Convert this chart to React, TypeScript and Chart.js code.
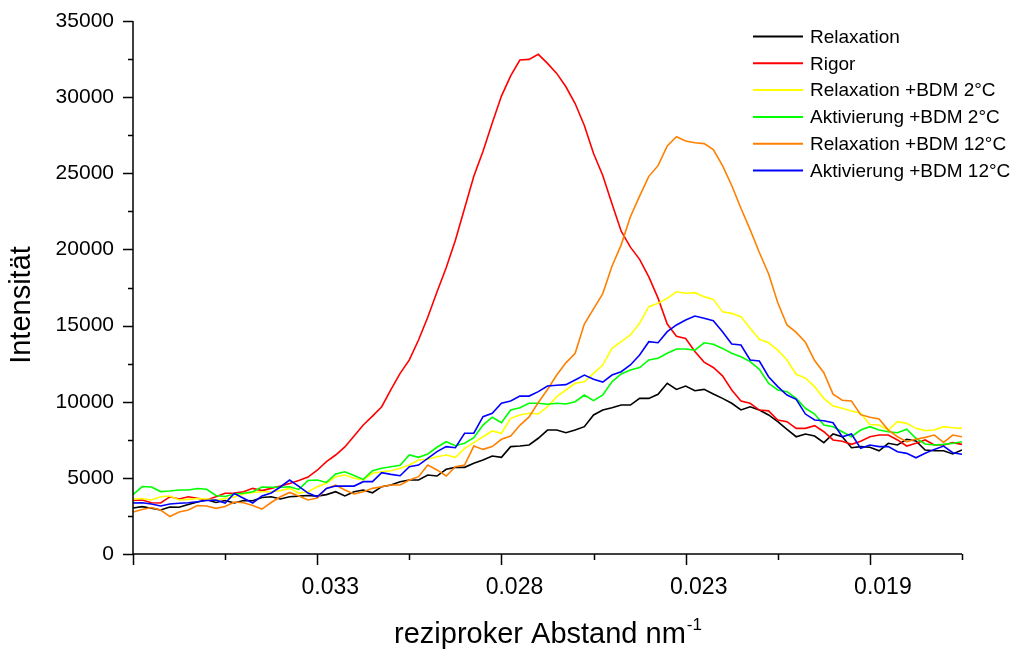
import React, { useEffect, useRef } from "react";
import { Chart, registerables } from "chart.js";

Chart.register(...registerables);

// ---- Data (sample index along the reciprocal-distance axis) ----
const seriesLabels = [
  "Relaxation",
  "Rigor",
  "Relaxation +BDM 2°C",
  "Aktivierung +BDM 2°C",
  "Relaxation +BDM 12°C",
  "Aktivierung +BDM 12°C",
];
const seriesColors = ["#000000", "#ff0000", "#ffff00", "#00ff00", "#ff8000", "#0000ff"];

const relaxation = [
  3020, 3110, 3000, 2890, 3090, 3070, 3250, 3410, 3560, 3380,
  3510, 3350, 3510, 3500, 3710, 3760, 3610, 3760, 3800, 3840,
  3800, 3900, 4090, 3810, 4090, 4200, 4020, 4420, 4530, 4750,
  4860, 4860, 5190, 5120, 5560, 5690, 5690, 5960, 6170, 6430,
  6350, 7050, 7090, 7160, 7600, 8140, 8140, 7960, 8140, 8360,
  9130, 9460, 9610, 9780, 9780, 10220, 10220, 10490, 11210, 10810,
  11030, 10720, 10810, 10510, 10220, 9900, 9460, 9670, 9460, 9130,
  8690, 8190, 7700, 7880, 7750, 7310, 7880, 7700, 6980, 7050,
  7010, 6780, 7270, 7160, 7530, 7420, 6830, 6780, 6780, 6570,
  6830,
];
const rigor = [
  3510, 3550, 3370, 3350, 3760, 3610, 3760, 3660, 3550, 3760,
  3990, 4000, 4090, 4310, 4160, 4310, 4460, 4630, 4830, 5050,
  5500, 6060, 6500, 7030, 7750, 8470, 9050, 9670, 10800, 11860,
  12750, 14050, 15550, 17200, 18800, 20600, 22700, 24800, 26450, 28300,
  30070, 31400, 32440, 32480, 32810, 32220, 31560, 30680, 29580, 28140,
  26300, 24860, 23000, 21200, 20150, 19350, 18200, 16800, 15100, 14300,
  14150, 13300, 12600, 12250, 11700, 10770, 10050, 9900, 9450, 9400,
  8800, 8690, 8250, 8250, 8430, 8030, 7490, 7400, 7200, 7400,
  7700, 7810, 7810, 7490, 7090, 7270, 7490, 7160, 7160, 7310,
  7200,
];
const relaxBdm2 = [
  3610, 3640, 3550, 3760, 3810, 3550, 3590, 3640, 3610, 3550,
  3640, 3740, 3940, 4040, 4090, 4090, 4160, 4310, 4000, 4090,
  4420, 4640, 5080, 5190, 4970, 4860, 5300, 5400, 5470, 5630,
  5840, 6170, 6220, 6390, 6500, 6350, 6940, 7310, 7700, 8080,
  7930, 8910, 9130, 9240, 9190, 9670, 10330, 10770, 11210, 11310,
  11860, 12410, 13510, 13940, 14380, 15150, 16240, 16460, 16790, 17220,
  17120, 17160, 16900, 16720, 15900, 15800, 15580, 14820, 14100, 13870,
  13390, 12740, 11800, 11540, 10990, 10220, 9720, 9570, 9390, 9240,
  8500, 8470, 8140, 8690, 8580, 8250, 8100, 8140, 8360, 8290,
  8250,
];
const aktivBdm2 = [
  3900, 4430, 4400, 4100, 4140, 4200, 4200, 4300, 4250, 3840,
  3780, 3940, 3990, 4090, 4400, 4380, 4380, 4420, 4240, 4830,
  4860, 4700, 5260, 5400, 5150, 4900, 5470, 5630, 5730, 5820,
  6500, 6350, 6570, 7010, 7370, 7110, 7270, 7640, 8470, 8980,
  8620, 9460, 9600, 9900, 9900, 9830, 9900, 9850, 10000, 10440,
  10070, 10440, 11310, 11820, 12080, 12240, 12740, 12850, 13180, 13460,
  13460, 13390, 13870, 13770, 13500, 13180, 12950, 12630, 12130, 11210,
  10770, 10660, 10220, 9570, 9190, 8470, 8360, 8030, 7700, 8140,
  8360, 8140, 8030, 7960, 8190, 7600, 7220, 7160, 7200, 7270,
  7370,
];
const relaxBdm12 = [
  2760, 2920, 3050, 2890, 2460, 2760, 2890, 3180, 3150, 3000,
  3120, 3410, 3370, 3180, 2950, 3380, 3760, 4040, 3810, 3550,
  3680, 4310, 4530, 4200, 3940, 4090, 4310, 4420, 4530, 4530,
  4860, 5080, 5840, 5520, 5120, 5730, 5840, 7090, 6870, 7050,
  7530, 7750, 8450, 9000, 9950, 10800, 11750, 12550, 13180, 15100,
  16100, 17100, 18900, 20300, 22150, 23500, 24800, 25500, 26800, 27400,
  27120, 27000, 26950, 26550, 25500, 24200, 22700, 21300, 19800, 18400,
  16500, 15040, 14550, 13900, 12700, 11900, 10500, 10100, 10050, 9150,
  8980, 8860, 8140, 7700, 7370, 7530, 7660, 7810, 7330, 7810,
  7700,
];
const aktivBdm12 = [
  3350, 3370, 3280, 3150, 3280, 3330, 3370, 3430, 3510, 3550,
  3350, 3970, 3660, 3350, 3810, 4010, 4400, 4860, 4440, 4000,
  3760, 4310, 4460, 4460, 4460, 4750, 4750, 5340, 5230, 5140,
  5730, 5840, 6280, 6720, 7050, 6980, 7930, 7930, 9020, 9240,
  9900, 10050, 10370, 10370, 10660, 11030, 11080, 11120, 11430, 11750,
  11470, 11290, 11750, 11970, 12410, 13070, 13940, 13870, 14600, 15040,
  15360, 15630, 15480, 15320, 14600, 13790, 13720, 12740, 12670, 11640,
  10990, 10440, 10160, 9190, 8800, 8750, 8620, 7700, 7880, 6940,
  7160, 7050, 7050, 6720, 6610, 6320, 6610, 6870, 7090, 6650,
  6550,
];

const seriesValues = [relaxation, rigor, relaxBdm2, aktivBdm2, relaxBdm12, aktivBdm12];
const samplePositions = relaxation.map((_, i) => i);

const xTickPositions = [20, 40, 60, 80];
const xTickLabels = ["0.033", "0.028", "0.023", "0.019"];
const xMax = 90;
const yMax = 35000;
const yMajorStep = 5000;
const yMinorStep = 2500;
const xMinorStep = 10;

const yTitle = "Intensität";
const xTitle = "reziproker Abstand nm";
const xTitleSup = "-1";

const FONT = "'Liberation Sans', Arial, Helvetica, sans-serif";

const decor = {
  id: "decor",
  afterDraw(chart: any) {
    const { ctx, chartArea: a } = chart;
    const xs = chart.scales.x;
    const ys = chart.scales.y;
    ctx.save();
    ctx.strokeStyle = "#000";
    ctx.lineWidth = 1.5;
    ctx.lineCap = "butt";
    ctx.beginPath();
    ctx.moveTo(a.left, a.top);
    ctx.lineTo(a.left, a.bottom);
    ctx.lineTo(a.right, a.bottom);
    ys.ticks.forEach((t: any) => {
      const py = Math.round(ys.getPixelForValue(t.value)) + 0.5;
      const major = t.value % yMajorStep === 0;
      ctx.moveTo(a.left - (major ? 10 : 5), py);
      ctx.lineTo(a.left, py);
    });
    xs.ticks.forEach((t: any) => {
      const px = Math.round(xs.getPixelForValue(t.value)) + 0.5;
      const major = t.value % 20 === 0;
      ctx.moveTo(px, a.bottom);
      ctx.lineTo(px, a.bottom + (major ? 11 : 6));
    });
    ctx.stroke();

    // legend
    ctx.font = `19px ${FONT}`;
    ctx.textBaseline = "middle";
    ctx.textAlign = "left";
    chart.data.datasets.forEach((ds: any, i: number) => {
      const ly = 36.5 + 26.8 * i;
      ctx.strokeStyle = ds.borderColor;
      ctx.lineWidth = 2;
      ctx.beginPath();
      ctx.moveTo(753, ly);
      ctx.lineTo(803, ly);
      ctx.stroke();
      ctx.fillStyle = "#000";
      ctx.fillText(ds.label, 810, ly + 1);
    });

    // x title with superscript
    ctx.fillStyle = "#000";
    ctx.font = `29px ${FONT}`;
    const mainW = ctx.measureText(xTitle).width;
    ctx.font = `17px ${FONT}`;
    const supW = ctx.measureText(xTitleSup).width;
    const cx = (a.left + a.right) / 2;
    const startX = cx - (mainW + supW) / 2;
    ctx.textBaseline = "alphabetic";
    ctx.font = `29px ${FONT}`;
    ctx.fillText(xTitle, startX, 643);
    ctx.font = `17px ${FONT}`;
    ctx.fillText(xTitleSup, startX + mainW + 1, 630);

    // y title
    ctx.save();
    ctx.translate(22, 305);
    ctx.rotate(-Math.PI / 2);
    ctx.font = `29px ${FONT}`;
    ctx.textAlign = "center";
    ctx.textBaseline = "middle";
    ctx.fillText(yTitle, 0, 0);
    ctx.restore();

    ctx.restore();
  },
};

export default function App() {
  const ref = useRef<HTMLCanvasElement>(null);
  useEffect(() => {
    if (!ref.current) return;
    Chart.defaults.font.family = FONT;
    const chart = new Chart(ref.current, {
      type: "line",
      data: {
        labels: samplePositions,
        datasets: seriesValues.map((vals, i) => ({
          label: seriesLabels[i],
          data: vals,
          borderColor: seriesColors[i],
          backgroundColor: seriesColors[i],
          borderWidth: 1.6,
          pointRadius: 0,
          tension: 0,
          fill: false,
          order: seriesValues.length - i,
        })),
      },
      options: {
        animation: false,
        responsive: false,
        devicePixelRatio: 1,
        layout: { padding: { top: 21, right: 57, left: 0, bottom: 0 } },
        plugins: { legend: { display: false }, tooltip: { enabled: false } },
        scales: {
          x: {
            type: "linear",
            min: 0,
            max: xMax,
            grid: { display: false, drawTicks: false },
            border: { display: false },
            afterFit: (s: any) => {
              s.height = 100;
              s.paddingLeft = 0;
              s.paddingRight = 0;
            },
            ticks: {
              stepSize: xMinorStep,
              autoSkip: false,
              maxRotation: 0,
              minRotation: 0,
              labelOffset: 13,
              padding: 20,
              color: "#000",
              font: { size: 23, family: FONT },
              callback: (v: any) => {
                const k = xTickPositions.indexOf(Number(v));
                return k >= 0 ? xTickLabels[k] : "";
              },
            },
          },
          y: {
            type: "linear",
            min: 0,
            max: yMax,
            grid: { display: false, drawTicks: false },
            border: { display: false },
            afterFit: (s: any) => {
              s.width = 133;
              s.paddingTop = 0;
              s.paddingBottom = 0;
            },
            ticks: {
              stepSize: yMinorStep,
              autoSkip: false,
              padding: 19,
              color: "#000",
              font: { size: 21, family: FONT },
              callback: (v: any) => (Number(v) % yMajorStep === 0 ? String(v) : ""),
            },
          },
        },
      },
      plugins: [decor],
    } as any);
    return () => chart.destroy();
  }, []);
  return (
    <div style={{ position: "absolute", left: 0, top: 0, width: 1019, height: 654, background: "#fff" }}>
      <canvas ref={ref} width={1019} height={654} style={{ display: "block" }} />
    </div>
  );
}
